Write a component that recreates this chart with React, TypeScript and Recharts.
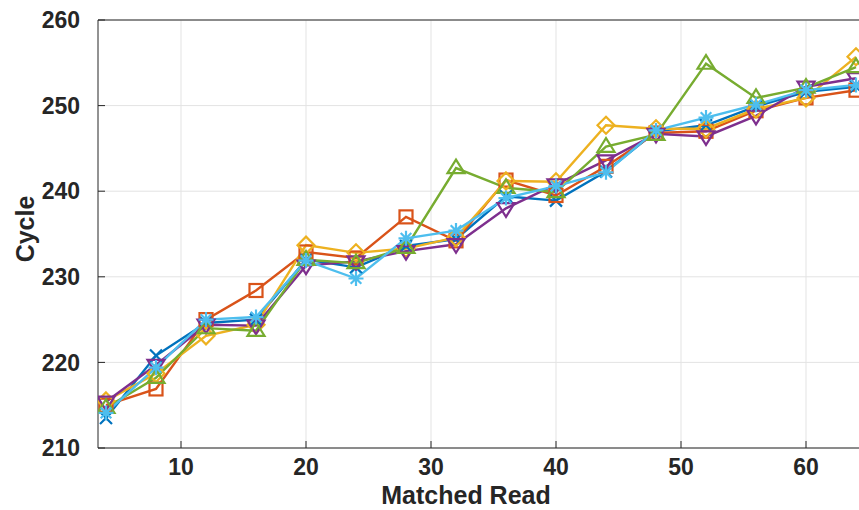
import React from 'react'
import { LineChart, Line, XAxis, YAxis, CartesianGrid, ReferenceLine } from 'recharts'

const matchedRead = [4, 8, 12, 16, 20, 24, 28, 32, 36, 40, 44, 48, 52, 56, 60, 64]
const seriesBlue = [213.5, 220.8, 224.6, 225.0, 232.0, 231.1, 233.6, 234.4, 239.4, 238.9, 242.3, 247.0, 247.7, 249.9, 251.6, 252.2]
const seriesOrange = [215.0, 216.9, 225.0, 228.4, 232.9, 232.2, 237.0, 234.2, 241.3, 239.5, 242.9, 246.8, 247.0, 249.4, 250.9, 251.8]
const seriesYellow = [215.5, 218.7, 223.1, 224.4, 233.7, 232.8, 233.3, 234.6, 241.2, 241.1, 247.7, 247.3, 247.3, 249.6, 250.9, 255.7]
const seriesPurple = [215.4, 219.7, 224.4, 224.3, 231.3, 231.8, 233.0, 233.8, 238.0, 240.8, 243.6, 246.7, 246.4, 248.8, 252.2, 253.2]
const seriesGreen = [214.7, 218.2, 224.0, 223.7, 232.0, 231.6, 233.4, 242.7, 240.4, 239.9, 245.2, 246.6, 254.9, 250.9, 252.1, 254.5]
const seriesLightBlue = [214.1, 219.4, 225.0, 225.3, 231.9, 229.8, 234.5, 235.4, 239.2, 240.6, 242.2, 247.1, 248.6, 250.1, 251.8, 252.4]

const xTicks = [10, 20, 30, 40, 50, 60]
const yTicks = [210, 220, 230, 240, 250, 260]

const data = matchedRead.map((x, i) => ({
  x,
  blue: seriesBlue[i],
  orange: seriesOrange[i],
  yellow: seriesYellow[i],
  purple: seriesPurple[i],
  green: seriesGreen[i],
  lightBlue: seriesLightBlue[i],
}))

type Shape = 'x' | 'square' | 'diamond' | 'down' | 'up' | 'star'

const makeDot = (shape: Shape, color: string) => (props: any) => {
  const { cx, cy, index } = props
  const common = { fill: 'none', stroke: color, strokeWidth: 2.2 }
  let el: React.ReactNode = null
  if (shape === 'x') {
    const r = 6
    el = <path d={`M${cx - r},${cy - r}L${cx + r},${cy + r}M${cx - r},${cy + r}L${cx + r},${cy - r}`} {...common} />
  } else if (shape === 'square') {
    const r = 6.5
    el = <rect x={cx - r} y={cy - r} width={2 * r} height={2 * r} {...common} />
  } else if (shape === 'diamond') {
    const r = 8.5
    el = <path d={`M${cx},${cy - r}L${cx + r},${cy}L${cx},${cy + r}L${cx - r},${cy}Z`} {...common} />
  } else if (shape === 'down') {
    const r = 8.5
    el = <path d={`M${cx - r},${cy - r * 0.6}L${cx + r},${cy - r * 0.6}L${cx},${cy + r}Z`} {...common} />
  } else if (shape === 'up') {
    const r = 8.5
    el = <path d={`M${cx - r},${cy + r * 0.6}L${cx + r},${cy + r * 0.6}L${cx},${cy - r}Z`} {...common} />
  } else {
    const r = 7.5
    const d = r * 0.707
    el = (
      <path
        d={`M${cx},${cy - r}L${cx},${cy + r}M${cx - r},${cy}L${cx + r},${cy}M${cx - d},${cy - d}L${cx + d},${cy + d}M${cx - d},${cy + d}L${cx + d},${cy - d}`}
        {...common}
      />
    )
  }
  return <g key={`${shape}-${index}`}>{el}</g>
}

const tickStyle = { fontSize: 23, fontWeight: 700, fill: '#262626', fontFamily: '"Liberation Sans", Arial, sans-serif' }
const axisColor = '#262626'

const seriesDefs: Array<{ key: string; color: string; shape: Shape }> = [
  { key: 'blue', color: '#0072BD', shape: 'x' },
  { key: 'orange', color: '#D95319', shape: 'square' },
  { key: 'yellow', color: '#EDB120', shape: 'diamond' },
  { key: 'purple', color: '#7E2F8E', shape: 'down' },
  { key: 'green', color: '#77AC30', shape: 'up' },
  { key: 'lightBlue', color: '#4DBEEE', shape: 'star' },
]

export default function App() {
  return (
    <div style={{ position: 'absolute', left: 0, top: 0, width: 859, height: 510, background: '#fff' }}>
      <LineChart width={859} height={510} data={data} margin={{ top: 20, right: 0, bottom: 0, left: 0 }}>
        <CartesianGrid stroke="#e3e3e3" strokeWidth={1} horizontalValues={yTicks} verticalValues={xTicks} />
        <XAxis
          dataKey="x"
          type="number"
          domain={[3.36, 64.24]}
          allowDataOverflow
          ticks={xTicks}
          interval={0}
          height={62}
          tick={tickStyle}
          tickSize={-7}
          tickMargin={18}
          stroke={axisColor}
          label={{
            content: () => (
              <text x={466} y={504} textAnchor="middle" fontSize={25} fontWeight={700} fill="#262626"
                fontFamily='"Liberation Sans", Arial, sans-serif'>Matched Read</text>
            ),
          }}
        />
        <YAxis
          type="number"
          domain={[210, 260]}
          ticks={yTicks}
          interval={0}
          width={98}
          tick={tickStyle}
          tickSize={-7}
          tickMargin={25}
          stroke={axisColor}
          label={{
            content: () => (
              <text x={34} y={229} transform="rotate(-90 34 229)" textAnchor="middle" fontSize={25} fontWeight={700}
                fill="#262626" fontFamily='"Liberation Sans", Arial, sans-serif'>Cycle</text>
            ),
          }}
        />
        <ReferenceLine y={260} stroke={axisColor} strokeWidth={1} />
        {seriesDefs.map((s) => (
          <Line
            key={s.key}
            dataKey={s.key}
            stroke={s.color}
            strokeWidth={2.4}
            dot={makeDot(s.shape, s.color)}
            activeDot={false}
            isAnimationActive={false}
          />
        ))}
      </LineChart>
    </div>
  )
}
